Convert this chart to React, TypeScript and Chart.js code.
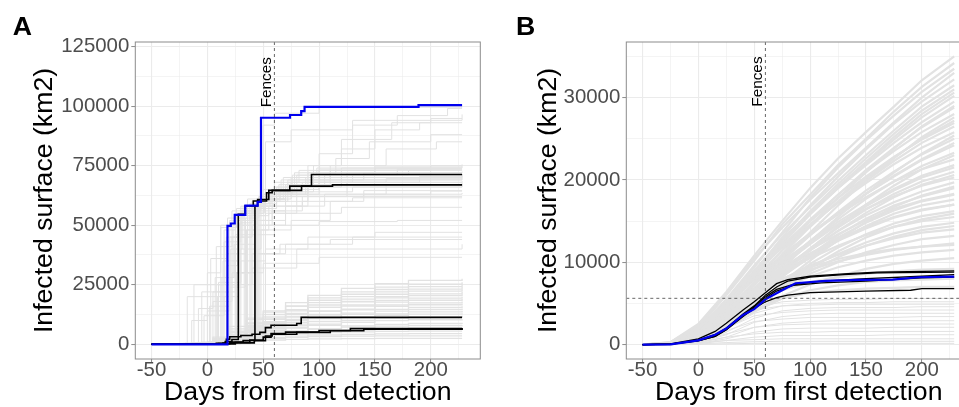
import React, { useEffect, useRef } from "react";
import { Chart, registerables } from "chart.js";

Chart.register(...registerables);

const FONT = "'Liberation Sans', Arial, Helvetica, sans-serif";

// ---------- axes / ticks ----------
const xMin = -64.5;
const xMax = 244.3;
const xMajorTicks = [-50, 0, 50, 100, 150, 200];
const xMinorTicks = [-25, 25, 75, 125, 175, 225];
const yMinA = -6170;
const yMaxA = 126890;
const yMajorTicksA = [0, 25000, 50000, 75000, 100000, 125000];
const yMinorTicksA = [12500, 37500, 62500, 87500, 112500];
const yMinB = -1750;
const yMaxB = 36750;
const yMajorTicksB = [0, 10000, 20000, 30000];
const yMinorTicksB = [5000, 15000, 25000, 35000];

const fenceDay = 60;
const fenceLabelA = 99500;
const fenceLabelB = 28900;
const thresholdB = 5620;

// ---------- Panel A data (step curves, [day, km2]) ----------
const blueA = [[-50, 0], [18, 49700], [21, 50700], [24.5, 54300], [34, 58200], [45, 59800], [48, 95100], [74, 96250], [84, 97900], [87, 99700], [189, 100400], [228, 100400]];

const blackA = [
  [[-50, 0], [8, 400], [16, 1200], [22, 2000], [27.7, 54600], [33.7, 58050], [41.1, 60130], [53, 63600], [58, 64600], [73.8, 66400], [93.2, 71250], [228, 71250]],
  [[-50, 0], [10, 300], [20, 900], [32, 1600], [42.6, 58050], [45, 60800], [55, 64600], [84.3, 66400], [112, 66900], [228, 66900]],
  [[-50, 0], [5, 200], [14, 500], [17, 2100], [20, 3200], [30, 3700], [40, 4200], [47, 5000], [52, 7000], [57, 8000], [80, 8750], [84, 11300], [228, 11300]],
  [[-50, 0], [10, 200], [25, 800], [38, 1800], [50, 3000], [57, 4500], [70, 5100], [100, 5800], [128, 6600], [228, 6800]],
  [[-50, 0], [10, 200], [25, 600], [42, 1500], [52, 3500], [58, 4200], [80, 5000], [110, 5700], [140, 6300], [228, 6500]],
];

const greyBigA = [
  [[-50, 0], [-30, 300], [-18, 20000], [10, 26000], [30, 52000], [45, 60000], [70, 66000], [120, 70000], [228, 70000]],
  [[-50, 0], [-25, 400], [-12, 25000], [15, 48000], [25, 55000], [50, 63000], [90, 72000], [150, 74000], [228, 74000]],
  [[-50, 0], [-20, 500], [-5, 22000], [20, 45000], [40, 58000], [60, 65000], [100, 68000], [228, 68000]],
  [[-50, 0], [-15, 600], [0, 30000], [12, 50000], [30, 58000], [52, 62000], [75, 70000], [110, 73000], [200, 75000], [228, 75000]],
  [[-50, 0], [-10, 700], [3, 36000], [18, 53000], [36, 61000], [65, 64000], [130, 66000], [228, 66000]],
  [[-50, 0], [-8, 800], [8, 41000], [22, 56000], [45, 60000], [62, 65000], [95, 68000], [160, 69500], [228, 69500]],
  [[-50, 0], [-5, 900], [12, 49000], [26, 57000], [48, 62000], [80, 67000], [228, 67000]],
  [[-50, 0], [0, 900], [15, 43000], [30, 54000], [55, 58000], [85, 62000], [140, 64500], [228, 64500]],
  [[-50, 0], [0, 1000], [20, 52000], [32, 58000], [50, 61000], [70, 66000], [105, 71000], [180, 73000], [228, 73000]],
  [[-50, 0], [5, 1200], [25, 55000], [40, 60000], [58, 64000], [78, 72000], [115, 78000], [145, 85000], [200, 88000], [228, 88000]],
  [[-50, 0], [8, 1300], [28, 50000], [44, 58000], [60, 63000], [90, 75000], [120, 82000], [150, 90000], [190, 93000], [228, 93000]],
  [[-50, 0], [10, 1500], [33, 56000], [47, 61000], [68, 70000], [100, 80000], [130, 92000], [170, 96000], [215, 99000], [228, 99000]],
  [[-50, 0], [15, 1600], [38, 54000], [52, 60000], [72, 68000], [110, 75000], [160, 82000], [205, 85000], [228, 85000]],
  [[-50, 0], [18, 1800], [42, 58000], [56, 63000], [76, 71000], [98, 74000], [228, 74000]],
  [[-50, 0], [20, 2000], [45, 59000], [62, 66000], [88, 70000], [125, 72000], [228, 72000]],
  [[-50, 0], [22, 2200], [48, 60000], [65, 65000], [85, 68000], [228, 68000]],
  [[-50, 0], [-12, 500], [5, 18000], [22, 30000], [40, 38000], [65, 42000], [110, 44000], [228, 44000]],
  [[-50, 0], [-5, 700], [10, 25000], [30, 35000], [52, 40000], [90, 45000], [150, 47000], [228, 47000]],
  [[-50, 0], [-22, 400], [-8, 15000], [5, 22000], [25, 30000], [50, 34000], [100, 36500], [228, 36500]],
  [[-50, 0], [2, 900], [18, 38000], [35, 46000], [60, 50000], [100, 51500], [170, 52000], [228, 52000]],
  [[-50, 0], [6, 1000], [22, 45000], [40, 50000], [70, 55000], [120, 57500], [228, 57500]],
  [[-50, 0], [12, 1400], [30, 40000], [48, 48000], [75, 52000], [110, 60000], [140, 63000], [200, 64300], [228, 64300]],
  [[-50, 0], [16, 1500], [35, 48000], [55, 55000], [80, 62000], [125, 68000], [190, 70500], [228, 70500]],
  [[-50, 0], [20, 1700], [40, 50000], [58, 56000], [85, 60000], [130, 61500], [228, 61500]],
  [[-50, 0], [10, 1200], [26, 30000], [45, 38000], [70, 42000], [130, 45000], [228, 45000]],
  [[-50, 0], [25, 2500], [52, 55000], [70, 64000], [95, 75000], [120, 86000], [165, 93000], [200, 94800], [228, 94800]],
  [[-50, 0], [-2, 800], [14, 35000], [28, 50000], [42, 57000], [62, 63000], [88, 69000], [140, 72000], [228, 72000]],
  [[-50, 0], [-8, 600], [7, 28000], [24, 42000], [44, 52000], [70, 58000], [105, 63000], [160, 67000], [228, 67000]],
  [[-50, 0], [24, 2300], [46, 62000], [60, 68000], [82, 73000], [150, 74500], [228, 74500]],
  [[-50, 0], [14, 1600], [36, 57000], [50, 65000], [66, 69000], [100, 73500], [228, 73500]],
  [[-50, 0], [20, 2000], [44, 60000], [50, 92000], [60, 97000], [100, 99500], [228, 100000]],
  [[-50, 0], [25, 2000], [47, 58000], [52, 85000], [75, 90000], [130, 94000], [228, 96500]],
  [[-50, 0], [-15, 400], [-3, 12000], [15, 20000], [28, 48000], [45, 56000], [70, 62000], [228, 62000]],
  [[-50, 0], [-10, 500], [2, 16000], [20, 24000], [34, 52000], [52, 58000], [90, 63000], [228, 63500]],
  [[-50, 0], [0, 800], [9, 20000], [17, 45000], [31, 56000], [48, 61000], [75, 68000], [130, 71000], [228, 71000]],
  [[-50, 0], [4, 900], [13, 28000], [23, 52000], [38, 59000], [55, 63000], [100, 69000], [228, 70000]],
  [[-50, 0], [8, 1000], [17, 33000], [27, 54000], [41, 60000], [60, 66000], [110, 72000], [228, 72500]],
  [[-50, 0], [12, 1200], [21, 40000], [31, 55000], [47, 62000], [64, 67000], [95, 70000], [228, 71500]],
  [[-50, 0], [16, 1400], [25, 46000], [36, 57000], [50, 63000], [72, 69000], [228, 69000]],
  [[-50, 0], [19, 1600], [29, 51000], [40, 59000], [57, 64000], [80, 71000], [170, 73500], [228, 73500]],
  [[-50, 0], [23, 1800], [34, 53000], [46, 60000], [62, 65000], [100, 70000], [228, 71000]],
  [[-50, 0], [27, 2000], [39, 55000], [51, 61000], [70, 67000], [120, 74000], [228, 75500]],
  [[-50, 0], [-18, 300], [-14, 10000], [0, 14000], [20, 25000], [40, 32000], [80, 40000], [228, 42000]],
  [[-50, 0], [30, 2100], [43, 52000], [58, 60000], [90, 66000], [228, 68500]],
];

const daysSmallA = [-50, -10, 5, 20, 35, 50, 70, 90, 120, 150, 180, 228];
const greySmallA = [
  [0, 300, 2500, 6500, 10500, 14000, 17500, 20500, 23500, 25500, 26800, 27500],
  [0, 200, 1800, 5000, 9000, 12500, 16000, 19500, 22000, 24000, 25200, 26000],
  [0, 400, 3000, 7500, 11000, 13500, 16000, 18500, 21000, 23000, 24200, 25000],
  [0, 150, 1200, 4000, 7500, 11000, 14500, 17500, 20000, 22000, 23200, 24000],
  [0, 250, 2000, 5500, 8800, 11500, 14000, 16500, 19000, 21000, 22300, 23000],
  [0, 100, 900, 3200, 6500, 9500, 12500, 15500, 18000, 20000, 21200, 22000],
  [0, 300, 2200, 5200, 8000, 10500, 13000, 15500, 17800, 19500, 20400, 21000],
  [0, 120, 1000, 3500, 6200, 8800, 11500, 14000, 16500, 18400, 19400, 20000],
  [0, 200, 1500, 4300, 7000, 9200, 11500, 13800, 16000, 17700, 18500, 19000],
  [0, 80, 700, 2600, 5200, 7600, 10000, 12500, 14800, 16500, 17400, 18000],
  [0, 180, 1400, 3900, 6300, 8300, 10400, 12400, 14500, 15900, 16600, 17000],
  [0, 100, 800, 2800, 5000, 7000, 9000, 11000, 13100, 14700, 15500, 16000],
  [0, 150, 1200, 3500, 5700, 7500, 9200, 10800, 12600, 13900, 14600, 15000],
  [0, 60, 500, 2000, 4000, 5900, 7700, 9500, 11400, 12800, 13600, 14000],
  [0, 130, 1000, 3000, 5000, 6600, 8100, 9600, 11200, 12200, 12700, 13000],
  [0, 80, 600, 2200, 4000, 5600, 7000, 8500, 10000, 11000, 11600, 12000],
  [0, 100, 800, 2600, 4300, 5600, 6800, 8000, 9200, 9900, 10300, 10500],
  [0, 50, 400, 1600, 3100, 4300, 5400, 6500, 7700, 8400, 8800, 9000],
  [0, 80, 700, 2200, 3600, 4700, 5600, 6400, 7200, 7600, 7900, 8000],
  [0, 40, 300, 1300, 2600, 3600, 4500, 5300, 6000, 6500, 6800, 7000],
  [0, 60, 500, 1700, 2900, 3800, 4400, 4900, 5200, 5400, 5500, 5500],
  [0, 30, 250, 1000, 2000, 2800, 3400, 3900, 4200, 4400, 4500, 4500],
  [0, 40, 350, 1200, 2000, 2500, 2900, 3200, 3400, 3500, 3500, 3500],
  [0, 20, 200, 800, 1400, 1800, 2100, 2300, 2400, 2500, 2500, 2500],
];

// ---------- Panel B data ----------
const blueB = [[-50, 0], [-25, 30], [0, 520], [15, 1200], [25, 1950], [40, 3600], [50, 4300], [60, 5500], [75, 6600], [87, 7450], [114, 7730], [144, 7850], [174, 7900], [197, 8180], [229, 8260]];

const blackB = [
  [[-50, 0], [-25, 80], [0, 700], [15, 1600], [25, 2600], [40, 4200], [50, 5200], [60, 6300], [70, 7400], [80, 7900], [100, 8300], [130, 8600], [160, 8800], [229, 8950]],
  [[-50, 0], [-25, 60], [0, 550], [15, 1200], [25, 2000], [40, 3700], [50, 4700], [60, 6000], [70, 7000], [80, 7700], [100, 8200], [130, 8500], [160, 8700], [229, 8800]],
  [[-50, 0], [-25, 50], [0, 500], [15, 1100], [25, 1900], [40, 3500], [50, 4600], [60, 5800], [70, 6700], [85, 7300], [110, 7700], [150, 8000], [200, 8300], [229, 8500]],
  [[-50, 0], [-25, 50], [0, 480], [15, 1000], [25, 1800], [40, 3500], [50, 4400], [60, 5600], [70, 6500], [85, 7200], [110, 7500], [150, 7700], [200, 8100], [229, 8200]],
  [[-50, 0], [-25, 40], [0, 450], [15, 1000], [25, 1800], [40, 3400], [50, 4400], [60, 5200], [70, 5700], [80, 6000], [100, 6300], [150, 6500], [190, 6600], [200, 6800], [229, 6800]],
];

const daysB = [-50, -25, 0, 25, 50, 75, 100, 125, 150, 175, 200, 229];
const greyFanB = [
  [0, 300, 2500, 6400, 10800, 15000, 19000, 22600, 25800, 28900, 32100, 35000],
  [0, 250, 2100, 6000, 10200, 14600, 18200, 21800, 25000, 28300, 31300, 34200],
  [0, 200, 1800, 5200, 9400, 13600, 17800, 21500, 24800, 27800, 30700, 33500],
  [0, 280, 2300, 6200, 10500, 14200, 17600, 20800, 23900, 27000, 30000, 33000],
  [0, 150, 1500, 4700, 8800, 13000, 16900, 20400, 23700, 26800, 29500, 32200],
  [0, 220, 1900, 5500, 9600, 13400, 16700, 19900, 23000, 26000, 28900, 31500],
  [0, 180, 1600, 4900, 8700, 12600, 16200, 19500, 22600, 25600, 28400, 31000],
  [0, 150, 1400, 4500, 8400, 12300, 15900, 19200, 22200, 25200, 28000, 30600],
  [0, 120, 1300, 4300, 8200, 12200, 15800, 19000, 22000, 24900, 27600, 30200],
  [0, 200, 1700, 5100, 9000, 12800, 16000, 19000, 21800, 24500, 27000, 29500],
  [0, 90, 1000, 3700, 7300, 11000, 14500, 17800, 20900, 23800, 26500, 29000],
  [0, 100, 1100, 3900, 7600, 11500, 15000, 18200, 21200, 23900, 26400, 28800],
  [0, 160, 1500, 4600, 8300, 11900, 15200, 18200, 21000, 23500, 25800, 28000],
  [0, 60, 700, 3000, 6500, 10100, 13600, 16900, 19900, 22600, 25200, 27600],
  [0, 90, 1000, 3600, 7200, 10900, 14300, 17400, 20200, 22700, 25000, 27200],
  [0, 170, 1600, 4800, 8500, 12000, 15000, 17800, 20400, 22800, 24900, 26900],
  [0, 140, 1400, 4400, 8000, 11400, 14500, 17300, 19900, 22300, 24500, 26500],
  [0, 200, 1800, 5000, 8600, 11800, 14600, 17200, 19600, 21900, 23900, 25800],
  [0, 50, 600, 2600, 5800, 9200, 12500, 15500, 18300, 20900, 23200, 25400],
  [0, 80, 900, 3300, 6800, 10200, 13300, 16100, 18700, 21000, 23100, 25000],
  [0, 120, 1200, 4000, 7300, 10500, 13300, 15900, 18300, 20500, 22500, 24500],
  [0, 130, 1300, 4100, 7500, 10700, 13500, 16000, 18300, 20400, 22400, 24200],
  [0, 70, 800, 3000, 6300, 9600, 12600, 15200, 17700, 19800, 21700, 23300],
  [0, 40, 500, 2300, 5300, 8500, 11600, 14400, 17000, 19300, 21300, 23000],
  [0, 170, 1600, 4600, 7900, 10900, 13500, 15800, 17900, 19800, 21300, 22500],
  [0, 110, 1100, 3700, 6900, 9900, 12500, 14900, 17000, 18900, 20500, 21800],
  [0, 100, 1000, 3500, 6600, 9600, 12200, 14600, 16800, 18700, 20300, 21500],
  [0, 60, 700, 2700, 5800, 8900, 11700, 14200, 16400, 18300, 19800, 21000],
  [0, 70, 800, 3000, 5900, 8800, 11400, 13800, 16000, 17900, 19400, 20600],
  [0, 150, 1400, 4200, 7300, 10100, 12500, 14600, 16500, 18000, 19300, 20300],
  [0, 90, 900, 3200, 6200, 9100, 11600, 13800, 15700, 17300, 18600, 19700],
  [0, 30, 400, 1900, 4600, 7500, 10200, 12700, 14900, 16700, 18100, 19200],
  [0, 50, 600, 2400, 5300, 8200, 10900, 13300, 15300, 16900, 18000, 19000],
  [0, 130, 1200, 3800, 6700, 9300, 11500, 13400, 15100, 16500, 17500, 18300],
  [0, 80, 850, 3100, 5900, 8600, 10900, 13000, 14800, 16300, 17400, 18200],
  [0, 70, 750, 2800, 5600, 8300, 10600, 12600, 14400, 15900, 16900, 17600],
  [0, 100, 1000, 3400, 6200, 8700, 10800, 12600, 14100, 15400, 16300, 17000],
  [0, 140, 1300, 3900, 6700, 9100, 11100, 12800, 14300, 15500, 16400, 17000],
  [0, 40, 500, 2100, 4700, 7400, 9800, 11800, 13400, 14700, 15600, 16200],
  [0, 35, 420, 1900, 4400, 7000, 9300, 11300, 13000, 14300, 15200, 15900],
  [0, 120, 1100, 3600, 6300, 8600, 10500, 12000, 13300, 14300, 15000, 15500],
  [0, 60, 650, 2500, 5000, 7400, 9400, 11000, 12400, 13500, 14300, 14800],
  [0, 50, 550, 2200, 4600, 6900, 8900, 10600, 12000, 13100, 13900, 14400],
  [0, 90, 900, 3100, 5700, 7900, 9600, 10900, 12000, 12900, 13600, 14000],
  [0, 50, 550, 2200, 4600, 6800, 8600, 10000, 11200, 12100, 12800, 13200],
  [0, 110, 1000, 3300, 5800, 7700, 9100, 10100, 10900, 11500, 11900, 12300],
  [0, 150, 1300, 3800, 6200, 8000, 9400, 10400, 11100, 11600, 11900, 12100],
  [0, 70, 700, 2600, 4900, 6800, 8300, 9400, 10200, 10800, 11200, 11500],
  [0, 40, 450, 1900, 4100, 5900, 7300, 8300, 9200, 9800, 10200, 10500],
  [0, 80, 800, 2800, 5000, 6600, 7600, 8200, 8600, 8900, 9100, 9200],
  [0, 50, 500, 2000, 4000, 5600, 6600, 7200, 7600, 7800, 7900, 8000],
  [0, 60, 600, 2300, 4300, 5600, 6300, 6600, 6800, 6900, 7000, 7000],
];
const greyLowB = [
  [0, 70, 700, 2500, 4400, 5200, 5400, 5500, 5500, 5600, 5600, 5600],
  [0, 40, 450, 1900, 3800, 4700, 5000, 5100, 5100, 5200, 5200, 5200],
  [0, 100, 900, 2800, 4200, 4700, 4800, 4900, 4900, 4900, 4900, 4900],
  [0, 30, 350, 1500, 3200, 4100, 4400, 4500, 4500, 4500, 4600, 4600],
  [0, 60, 600, 2000, 3500, 3900, 4100, 4200, 4200, 4200, 4200, 4200],
  [0, 20, 250, 1200, 2700, 3400, 3700, 3800, 3800, 3800, 3800, 3800],
  [0, 50, 500, 1700, 2800, 3100, 3300, 3300, 3300, 3300, 3400, 3400],
  [0, 20, 200, 900, 2100, 2600, 2800, 2900, 2900, 2900, 2900, 2900],
  [0, 40, 400, 1300, 2100, 2400, 2500, 2500, 2500, 2500, 2500, 2500],
  [0, 20, 150, 700, 1500, 1900, 2000, 2000, 2000, 2100, 2100, 2100],
  [0, 30, 300, 900, 1300, 1500, 1500, 1600, 1600, 1600, 1600, 1600],
  [0, 10, 100, 500, 900, 1100, 1100, 1100, 1100, 1200, 1200, 1200],
  [0, 20, 200, 500, 600, 700, 700, 700, 700, 700, 700, 700],
  [0, 10, 80, 250, 350, 400, 400, 400, 400, 400, 400, 400],
  [0, 5, 40, 100, 150, 150, 150, 150, 150, 150, 150, 150],
];

// ---------- styles ----------
const GREY = "#e2e2e2";
const GRID = "#ebebeb";
const BORDER = "#8c8c8c";
const TICKTEXT = "#4d4d4d";
const BLUE = "#0000ee";

const pairs = (p: number[][]) => p.map(([x, y]) => ({ x, y }));
const onGrid = (days: number[], v: number[]) => days.map((d, i) => ({ x: d, y: v[i] }));

function line(data: any[], color: string, width: number, order: number, stepped: boolean) {
  return {
    data,
    borderColor: color,
    borderWidth: width,
    pointRadius: 0,
    fill: false,
    tension: 0,
    stepped: stepped ? "before" : false,
    order,
  };
}

function overlayPlugin(fenceLabelY: number, threshold: number | null) {
  return {
    id: "overlay",
    afterDatasetsDraw(chart: any) {
      const { ctx, chartArea: ca, scales } = chart;
      const x = scales.x.getPixelForValue(fenceDay);
      ctx.save();
      ctx.beginPath();
      ctx.rect(ca.left, ca.top, ca.right - ca.left, ca.bottom - ca.top);
      ctx.clip();
      ctx.strokeStyle = "#333333";
      ctx.lineWidth = 0.75;
      ctx.setLineDash([3, 3]);
      ctx.beginPath();
      ctx.moveTo(x, ca.top);
      ctx.lineTo(x, ca.bottom);
      ctx.stroke();
      if (threshold !== null) {
        const y = scales.y.getPixelForValue(threshold);
        ctx.beginPath();
        ctx.moveTo(ca.left, y);
        ctx.lineTo(ca.right, y);
        ctx.stroke();
      }
      ctx.restore();
      ctx.save();
      ctx.translate(x - 8, scales.y.getPixelForValue(fenceLabelY));
      ctx.rotate(-Math.PI / 2);
      ctx.font = `15.3px ${FONT}`;
      ctx.fillStyle = "#000";
      ctx.textAlign = "left";
      ctx.textBaseline = "middle";
      ctx.fillText("Fences", 0, 0);
      ctx.restore();
    },
    afterDraw(chart: any) {
      const { ctx, chartArea: ca } = chart;
      ctx.save();
      ctx.strokeStyle = BORDER;
      ctx.lineWidth = 1;
      ctx.strokeRect(ca.left, ca.top, ca.right - ca.left, ca.bottom - ca.top);
      ctx.restore();
    },
  };
}

function panelConfig(p: {
  label: string;
  padLeft: number;
  padRight: number;
  yAxisWidth: number;
  yMin: number;
  yMax: number;
  yMajor: number[];
  yMinor: number[];
  datasets: any[];
  fenceLabelY: number;
  threshold: number | null;
}): any {
  const xAll = [...xMajorTicks, ...xMinorTicks].sort((a, b) => a - b);
  const yAll = [...p.yMajor, ...p.yMinor].sort((a, b) => a - b);
  const isXMajor = (v: any) => xMajorTicks.includes(v);
  const isYMajor = (v: any) => p.yMajor.includes(v);
  return {
    type: "line",
    data: { datasets: p.datasets },
    options: {
      animation: false,
      responsive: false,
      maintainAspectRatio: false,
      devicePixelRatio: 1,
      events: [],
      layout: { padding: { left: p.padLeft, right: p.padRight, top: 0, bottom: 0 } },
      plugins: {
        legend: { display: false },
        tooltip: { enabled: false },
        title: {
          display: true,
          text: p.label,
          align: "start",
          color: "#000",
          font: { family: FONT, size: 26.67, weight: "bold", lineHeight: 1 },
          padding: { top: 14, bottom: 1.33 },
        },
      },
      scales: {
        x: {
          type: "linear",
          min: xMin,
          max: xMax,
          bounds: "data",
          afterBuildTicks: (s: any) => {
            s.ticks = xAll.map((v) => ({ value: v }));
          },
          afterFit: (s: any) => {
            s.height = 48;
          },
          border: { display: false },
          grid: {
            color: GRID,
            lineWidth: (c: any) => (isXMajor(c.tick?.value) ? 1.1 : 0.55),
            tickColor: (c: any) => (isXMajor(c.tick?.value) ? BORDER : "rgba(0,0,0,0)"),
            tickLength: 4,
            tickWidth: 1,
          },
          ticks: {
            autoSkip: false,
            maxRotation: 0,
            minRotation: 0,
            padding: -3,
            color: TICKTEXT,
            font: { family: FONT, size: 20.4, lineHeight: 1 },
            callback: (v: any) => (isXMajor(v) ? String(v) : ""),
          },
          title: {
            display: true,
            text: "Days from first detection",
            color: "#000",
            font: { family: FONT, size: 26.67, lineHeight: 1 },
            padding: { top: 0, bottom: 1.25 },
          },
        },
        y: {
          type: "linear",
          min: p.yMin,
          max: p.yMax,
          bounds: "data",
          afterBuildTicks: (s: any) => {
            s.ticks = yAll.map((v) => ({ value: v }));
          },
          afterFit: (s: any) => {
            s.width = p.yAxisWidth;
          },
          border: { display: false },
          grid: {
            color: GRID,
            lineWidth: (c: any) => (isYMajor(c.tick?.value) ? 1.1 : 0.55),
            tickColor: (c: any) => (isYMajor(c.tick?.value) ? BORDER : "rgba(0,0,0,0)"),
            tickLength: 4,
            tickWidth: 1,
          },
          ticks: {
            autoSkip: false,
            padding: 2,
            color: TICKTEXT,
            font: { family: FONT, size: 20.4, lineHeight: 1 },
            callback: (v: any) => (isYMajor(v) ? String(v) : ""),
          },
          title: {
            display: true,
            text: "Infected surface (km2)",
            color: "#000",
            font: { family: FONT, size: 26.67, lineHeight: 1 },
            padding: { top: 19, bottom: 0 },
          },
        },
      },
    },
    plugins: [overlayPlugin(p.fenceLabelY, p.threshold)],
  };
}

function datasetsA() {
  const ds: any[] = [];
  ds.push(line(pairs(blueA), BLUE, 2.2, 0, true));
  blackA.forEach((s) => ds.push(line(pairs(s), "#000", 1.6, 1, true)));
  greyBigA.forEach((s) => ds.push(line(pairs(s), GREY, 1.0, 2, true)));
  greySmallA.forEach((s) => ds.push(line(onGrid(daysSmallA, s), GREY, 1.3, 2, true)));
  return ds;
}

function datasetsB() {
  const ds: any[] = [];
  ds.push(line(pairs(blueB), BLUE, 2.2, 0, false));
  blackB.forEach((s) => ds.push(line(pairs(s), "#000", 1.3, 1, false)));
  greyFanB.forEach((s) => ds.push(line(onGrid(daysB, s), GREY, 2.2, 2, false)));
  greyLowB.forEach((s) => ds.push(line(onGrid(daysB, s), GREY, 1.0, 2, false)));
  return ds;
}

export default function App() {
  const refA = useRef<HTMLCanvasElement>(null);
  const refB = useRef<HTMLCanvasElement>(null);

  useEffect(() => {
    const a = new Chart(
      refA.current!,
      panelConfig({
        label: "A",
        padLeft: 12.7,
        padRight: 0.7,
        yAxisWidth: 122.6,
        yMin: yMinA,
        yMax: yMaxA,
        yMajor: yMajorTicksA,
        yMinor: yMinorTicksA,
        datasets: datasetsA(),
        fenceLabelY: fenceLabelA,
        threshold: null,
      })
    );
    const b = new Chart(
      refB.current!,
      panelConfig({
        label: "B",
        padLeft: 36,
        padRight: 0.7,
        yAxisWidth: 110.3,
        yMin: yMinB,
        yMax: yMaxB,
        yMajor: yMajorTicksB,
        yMinor: yMinorTicksB,
        datasets: datasetsB(),
        fenceLabelY: fenceLabelB,
        threshold: thresholdB,
      })
    );
    return () => {
      a.destroy();
      b.destroy();
    };
  }, []);

  return (
    <div
      style={{
        position: "fixed",
        left: 0,
        top: 0,
        width: 959,
        height: 407,
        overflow: "hidden",
        background: "#fff",
      }}
    >
      <canvas
        ref={refA}
        width={481}
        height={407}
        style={{ position: "absolute", left: 0, top: 0, width: 481, height: 407 }}
      />
      <canvas
        ref={refB}
        width={492}
        height={407}
        style={{ position: "absolute", left: 480, top: 0, width: 492, height: 407 }}
      />
    </div>
  );
}
